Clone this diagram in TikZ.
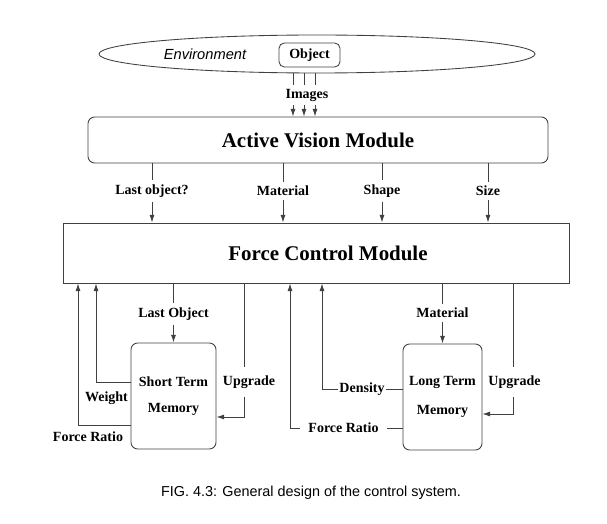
\documentclass[tikz,border=0pt]{standalone}
\usepackage{fontspec}
\setmainfont{Liberation Serif}
\setsansfont{Liberation Sans}
\usepackage{tikz}
\usetikzlibrary{arrows.meta,positioning,shapes.geometric}
\definecolor{linex}{HTML}{404040}
\tikzset{
  ar/.style={-{Latex[length=2mm,width=1.3mm]},line width=0.65pt,linex},
  ln/.style={line width=0.65pt,linex},
  modbox/.style={draw=linex,line width=0.65pt,inner sep=0pt,font=\bfseries\fontsize{15.7}{18}\selectfont},
  membox/.style={draw=linex,line width=0.65pt,rounded corners=5pt,inner sep=0pt,align=center,
    minimum height=79.5pt,font=\bfseries\fontsize{10.5}{20}\selectfont},
  lab/.style={font=\bfseries\fontsize{10.5}{12}\selectfont,inner sep=3pt},
  uplab/.style={lab,inner ysep=6pt}
}
\begin{document}
\begin{tikzpicture}[x=0.75pt,y=-0.75pt]
\useasboundingbox (0,0) rectangle (607,524);
% environment and object
\node[ellipse,draw=linex,line width=0.65pt,minimum width=327pt,minimum height=28.5pt,inner sep=0pt] (env) at (317,54) {};
\node[font=\sffamily\itshape\fontsize{11}{13}\selectfont] (envt) at (205,54) {Environment};
\node[draw=linex,line width=0.65pt,rounded corners=4pt,minimum width=45.75pt,minimum height=18pt,inner sep=0pt,
  font=\bfseries\fontsize{10.5}{12}\selectfont] (obj) at (309.5,55) {Object};
% modules
\node[modbox,rounded corners=5pt,minimum width=345pt,minimum height=34.5pt] (avm) at (318,140) {Active Vision Module};
\node[modbox,minimum width=379.5pt,minimum height=45pt] (fcm) at (316,253) {\hspace*{18pt}Force Control Module};
\node[membox,minimum width=63.75pt] (stm) at (173.5,396) {Short Term\\Memory};
\node[membox,minimum width=59.25pt] (ltm) at (442.5,397) {Long Term\\[2pt]Memory};
% images
\node[lab] (imgs) at (307,95) {Images};
\foreach \x in {293,304,315}{
  \draw[ln] (\x,0 |- env.south) -- (\x,0 |- imgs.north);
  \draw[ar] (\x,0 |- imgs.south) -- (\x,0 |- avm.north);
}
% vision -> force control
\node[lab] (lobq) at (152,191) {Last object?};
\node[lab] (mat) at (283,191) {Material};
\node[lab] (shp) at (382,191) {Shape};
\node[lab] (siz) at (488,191) {Size};
\foreach \n in {lobq,mat,shp,siz}{
  \draw[ln] (avm.south -| \n) -- (\n.north);
  \draw[ar] (\n.south) -- (fcm.north -| \n);
}
% short term memory
\node[lab] (lob) at (173.5,314) {Last Object};
\draw[ln] (fcm.south -| lob) -- (lob.north);
\draw[ar] (lob.south) -- (stm.north -| lob);
\node[uplab] (upl) at (249,382) {Upgrade};
\coordinate (ulk) at (244,417);
\draw[ln] (fcm.south -| ulk) -- (upl.north -| ulk);
\draw[ar] (upl.south -| ulk) -- (ulk) -- (ulk -| stm.east);
\node[lab,inner sep=1pt] (wt) at (106.5,398) {Weight};
\coordinate (wk) at (96,382);
\draw[ar] (wk -| stm.west) -- (wk) -- (wk |- fcm.south);
\node[lab,inner sep=1pt] (fr1) at (88,437) {Force Ratio};
\coordinate (fk) at (78,425);
\draw[ar] (fk -| stm.west) -- (fk) -- (fk |- fcm.south);
% long term memory
\node[lab] (mat2) at (442.5,313) {Material};
\draw[ln] (fcm.south -| mat2) -- (mat2.north);
\draw[ar] (mat2.south) -- (ltm.north -| mat2);
\node[uplab] (upr) at (514.5,382) {Upgrade};
\coordinate (urk) at (513,414);
\draw[ln] (fcm.south -| urk) -- (upr.north -| urk);
\draw[ar] (upr.south -| urk) -- (urk) -- (urk -| ltm.east);
\node[lab,inner xsep=1pt] (den) at (362,389) {Density};
\coordinate (dk) at (322,389);
\draw[ln] (ltm.west |- den) -- (den.east);
\draw[ar] (den.west) -- (dk) -- (dk |- fcm.south);
\node[lab,inner xsep=6pt] (fr2) at (343.5,428) {Force Ratio};
\coordinate (fk2) at (290,428);
\draw[ln] (ltm.west |- fr2) -- (fr2.east);
\draw[ar] (fr2.west) -- (fk2) -- (fk2 |- fcm.south);
% caption
\node[font=\sffamily\fontsize{10.8}{12}\selectfont] (cap) at (311,493) {FIG. 4.3: General design of the control system.};
\end{tikzpicture}
\end{document}
